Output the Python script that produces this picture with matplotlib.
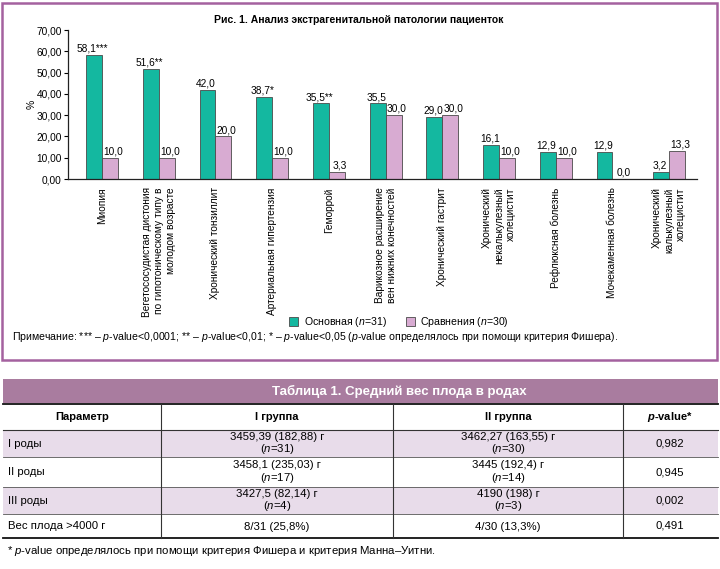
#!/usr/bin/env python3
import numpy as np
import matplotlib
matplotlib.use("Agg")
import matplotlib.pyplot as plt
from matplotlib.patches import Rectangle, Patch

plt.rcParams['font.family'] = ['Liberation Sans', 'DejaVu Sans']
plt.rcParams['mathtext.fontset'] = 'custom'
plt.rcParams['mathtext.rm'] = 'Liberation Sans'
plt.rcParams['mathtext.it'] = 'Liberation Sans:italic'
plt.rcParams['mathtext.bf'] = 'Liberation Sans:bold'
plt.rcParams['mathtext.bfit'] = 'Liberation Sans:italic:bold'

# ---------------- chart data ----------------
cats = ['Миопия',
        'Вегетососудистая дистония\nпо гипотоническому типу в\nмолодом возрасте',
        'Хронический тонзиллит',
        'Артериальная гипертензия',
        'Геморрой',
        'Варикозное расширение\nвен нижних конечностей',
        'Хронический гастрит',
        'Хронический\nнекалькулезный\nхолецистит',
        'Рефлюксная болезнь',
        'Мочекаменная болезнь',
        'Хронический\nкалькулезный\nхолецистит']
main = [58.1, 51.6, 42.0, 38.7, 35.5, 35.5, 29.0, 16.1, 12.9, 12.9, 3.2]
comp = [10.0, 10.0, 20.0, 10.0, 3.3, 30.0, 30.0, 10.0, 10.0, 0.0, 13.3]
main_sig = ['***', '**', '', '*', '**', '', '', '', '', '', '']
yticks = [0, 10, 20, 30, 40, 50, 60, 70]

# ---------------- table data ----------------
params = ['I роды', 'II роды', 'III роды', 'Вес плода >4000 г']
g1_vals = ['3459,39 (182,88) г', '3458,1 (235,03) г', '3427,5 (82,14) г', '8/31 (25,8%)']
g1_n = [31, 17, 4, None]
g2_vals = ['3462,27 (163,55) г', '3445 (192,4) г', '4190 (198) г', '4/30 (13,3%)']
g2_n = [30, 14, 3, None]
pvals = ['0,982', '0,945', '0,002', '0,491']

GREEN = '#14b8a0'
PINK = '#d8abd2'
EDGE = '#4a4a4a'
FRAME = '#a4619f'
HEAD = '#a97c9f'
SHADE = '#e8dcea'

W, H = 720, 569
fig = plt.figure(figsize=(W / 100, H / 100), dpi=100)

# background axes in pixel coordinates for frame + table
bg = fig.add_axes([0, 0, 1, 1], zorder=0)
bg.set_xlim(0, W)
bg.set_ylim(H, 0)
bg.axis('off')

bg.add_patch(Rectangle((2, 3), 715, 357, fill=False, edgecolor=FRAME, lw=1.8))
bg.text(359, 20, 'Рис. 1. Анализ экстрагенитальной патологии пациенток',
        ha='center', va='center', fontsize=7.5, fontweight='bold')
bg.text(12, 337, 'Примечание: *** – $p$-value<0,0001; ** – $p$-value<0,01; * – $p$-value<0,05 '
        '($p$-value определялось при помощи критерия Фишера).',
        ha='left', va='center', fontsize=7.6)
bg.text(32, 104, '%', rotation=90, ha='center', va='center', fontsize=7.5)

# ---------------- bar chart ----------------
px = lambda v, tot: v / tot
ax = fig.add_axes([px(68, W), 1 - px(179, H), px(697 - 68, W), px(179 - 30, H)], zorder=2)
ax.patch.set_alpha(0)
x = np.arange(len(cats))
bw = 0.28
b1 = ax.bar(x - bw / 2, main, bw, color=GREEN, edgecolor=EDGE, lw=0.6)
b2 = ax.bar(x + bw / 2, comp, bw, color=PINK, edgecolor=EDGE, lw=0.6)

for rect, v, s in zip(b1, main, main_sig):
    ax.annotate(f'{v:.1f}'.replace('.', ',') + s,
                (rect.get_x() + rect.get_width() / 2, v), xytext=(-1, 1),
                textcoords='offset points', ha='center', va='bottom', fontsize=7.3)
for rect, v in zip(b2, comp):
    ax.annotate(f'{v:.1f}'.replace('.', ','),
                (rect.get_x() + rect.get_width() / 2, v), xytext=(2.2, 1),
                textcoords='offset points', ha='center', va='bottom', fontsize=7.3)

ax.set_xlim(-0.6, 10.49)
ax.set_ylim(0, 70)
ax.set_yticks(yticks)
ax.set_yticklabels([f'{t:.2f}'.replace('.', ',') for t in yticks], fontsize=7.3)
ax.set_xticks(x)
ax.set_xticklabels(cats, rotation=90, ha='center', va='top', multialignment='right',
                   fontsize=7.3, linespacing=1.25)
ax.tick_params(axis='x', length=0, pad=6)
ax.tick_params(axis='y', length=3, width=0.8, pad=1.5)
for sp in ['top', 'right']:
    ax.spines[sp].set_visible(False)
for sp in ['left', 'bottom']:
    ax.spines[sp].set_linewidth(0.9)
    ax.spines[sp].set_color('#222222')

handles = [Patch(facecolor=GREEN, edgecolor=EDGE, lw=0.6),
           Patch(facecolor=PINK, edgecolor=EDGE, lw=0.6)]
fig.legend(handles, ['Основная ($n$=31)', 'Сравнения ($n$=30)'], loc='center',
           bbox_to_anchor=(px(399, W), 1 - px(322, H)), ncol=2, frameon=False,
           fontsize=7.6, handlelength=0.9, handleheight=0.9, columnspacing=1.8,
           handletextpad=0.5)

# ---------------- table ----------------
L, R = 3, 718
bg.add_patch(Rectangle((L, 379), R - L, 24, color=HEAD, lw=0))
bg.text(399, 391.5, 'Таблица 1. Средний вес плода в родах', ha='center', va='center',
        color='white', fontsize=9.5, fontweight='bold')

row_edges = [404, 430, 457, 487, 514, 538]
col_edges = [161, 393, 623]
col_cent = [277, 508, 670]

for i in range(len(params)):
    if i % 2 == 0:
        bg.add_patch(Rectangle((L, row_edges[i + 1]), R - L,
                               row_edges[i + 2] - row_edges[i + 1], color=SHADE, lw=0))

bg.plot([L, R], [404, 404], color='#111111', lw=1.3)
bg.plot([L, R], [538, 538], color='#111111', lw=1.3)
bg.plot([L, R], [430, 430], color='#333333', lw=0.8)
for y in row_edges[2:-1]:
    bg.plot([L, R], [y, y], color='#555555', lw=0.6)
for xc in col_edges:
    bg.plot([xc, xc], [404, 538], color='#333333', lw=0.8)

hdr_y = (404 + 430) / 2
bg.text(82, hdr_y, 'Параметр', ha='center', va='center', fontsize=8, fontweight='bold')
bg.text(col_cent[0], hdr_y, 'I группа', ha='center', va='center', fontsize=8, fontweight='bold')
bg.text(col_cent[1], hdr_y, 'II группа', ha='center', va='center', fontsize=8, fontweight='bold')
bg.text(col_cent[2], hdr_y, r'$\mathbfit{p}$-value*', ha='center', va='center',
        fontsize=8, fontweight='bold')

for i in range(len(params)):
    yc = (row_edges[i + 1] + row_edges[i + 2]) / 2
    bg.text(8, yc, params[i], ha='left', va='center', fontsize=8.2)
    for c, vals, ns in [(0, g1_vals, g1_n), (1, g2_vals, g2_n)]:
        s = vals[i] if ns[i] is None else vals[i] + '\n($n$=%d)' % ns[i]
        bg.text(col_cent[c], yc + 0.5, s, ha='center', va='center', fontsize=8.2,
                linespacing=1.05)
    bg.text(col_cent[2], yc, pvals[i], ha='center', va='center', fontsize=8.2)

bg.text(7, 551, '* $p$-value определялось при помощи критерия Фишера и критерия Манна–Уитни.',
        ha='left', va='center', fontsize=8.2)

fig.savefig('out.png', dpi=100)
